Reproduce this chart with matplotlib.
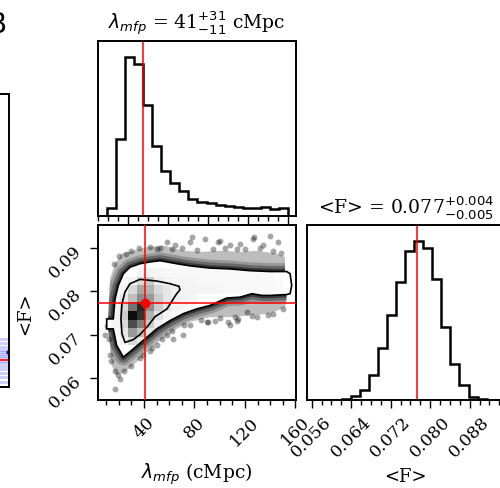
import numpy as np
import matplotlib
matplotlib.use("Agg")
import matplotlib.pyplot as plt
from matplotlib.patches import Polygon
from matplotlib.ticker import MultipleLocator, FixedLocator, FormatStrFormatter, NullFormatter
from matplotlib.colors import LinearSegmentedColormap

plt.rcParams['font.family'] = ['DejaVu Serif']
plt.rcParams['mathtext.fontset'] = 'dejavusans'

# ---------------- data ----------------
lam_median = 41.0
F_median = 0.0773
lam_title = r"$\lambda_{mfp}$ = 41$^{+31}_{-11}$ cMpc"
F_title = r"<F> = 0.077$^{+0.004}_{-0.005}$"
lam_label = r"$\lambda_{mfp}$ (cMpc)"
F_label = "<F>"

# 1D histogram of lambda_mfp (20 bins)
lam_bin_start = 13.8
lam_bin_width = 6.81
lam_counts = [8, 77, 160, 153, 112, 70, 45, 33, 25, 17, 14, 13, 11, 10, 9, 8, 8, 9, 7, 8]

# 1D histogram of <F> (visible bins)
F_bin_start = 0.06209
F_bin_width = 0.001835
F_counts = [1, 3.3, 10, 25, 52, 85, 117, 148, 158, 151, 120, 73, 36, 15, 2.7, 1]

# 2D density grid (darkness), rows = <F> bins (bottom->top), cols = lambda bins
F_grid_start = 0.06749
F_grid_width = 0.001978
density = [
    [0, .05, .15, .10, .03, 0, 0, 0, 0, 0, 0, 0, 0, 0, 0, 0, 0, 0, 0, 0],
    [.03, .10, .40, .25, .10, .04, 0, 0, 0, 0, 0, 0, 0, 0, 0, 0, 0, 0, 0, 0],
    [.04, .15, .70, .50, .20, .06, .03, 0, 0, 0, 0, 0, 0, 0, 0, 0, 0, 0, 0, 0],
    [.05, .20, .95, .80, .30, .12, .05, .03, 0, 0, 0, 0, 0, 0, 0, 0, 0, 0, 0, 0],
    [.05, .15, .55, .85, .45, .20, .10, .05, .04, .03, 0, 0, 0, 0, 0, 0, 0, 0, 0, 0],
    [.04, .10, .25, .45, .40, .20, .10, .07, .05, .04, 0, 0, 0, 0, 0, 0, 0, 0, 0, 0],
    [.03, .05, .15, .35, .30, .15, .10, .07, .05, .05, .04, .04, .04, .03, .03, .03, .03, .03, .03, .02],
    [0, .03, .05, .15, .20, .07, .05, .04, .04, .04, .03, .03, .03, .03, .03, .03, .03, .03, .03, .02],
    [0, 0, 0, .05, .05, .04, .03, .03, .03, .03, .03, .03, .03, .03, .03, .03, .03, .03, .03, 0],
]

# contour outlines (lambda, <F>)
outer_lam = [15.6, 10.4, 10.4, 15.6, 18.3, 23.6, 31.5, 40.8, 50.0, 60.6, 71.1, 81.8, 92.3,
             105.6, 116.1, 125.6, 133.5, 139.9, 153.1, 155.8, 157.1, 155.8, 153.1, 139.9,
             124.0, 108.2, 92.3, 76.5, 65.9, 52.7, 44.7, 36.8, 28.9, 23.6, 19.6, 17.0]
outer_F = [0.0736, 0.0736, 0.0713, 0.0713, 0.0675, 0.0648, 0.0667, 0.0690, 0.0713, 0.0732,
           0.0748, 0.0759, 0.0767, 0.0784, 0.0786, 0.0794, 0.0790, 0.0790, 0.0792, 0.0794,
           0.0813, 0.0840, 0.0845, 0.0845, 0.0847, 0.0851, 0.0853, 0.0858, 0.0863, 0.0870,
           0.0867, 0.0863, 0.0855, 0.0840, 0.0813, 0.0782]
inner_lam = [28.9, 36.8, 50.3, 60.6, 67.7, 68.5, 65.4, 58.2, 48.7, 43.1, 36.8, 31.3, 24.9,
             22.5, 21.7, 22.5, 24.9]
inner_F = [0.0817, 0.0827, 0.0823, 0.0817, 0.0811, 0.0803, 0.0792, 0.0759, 0.0741, 0.0720,
           0.0700, 0.0688, 0.0682, 0.0702, 0.0736, 0.0771, 0.0798]

# envelope of the dense sample cloud (lambda, <F>)
cloud_lam = [22.3, 31.5, 42.1, 55.3, 71.1, 84.4, 102.9, 116.1, 129.3, 145.2, 151.8, 151.8,
             153.1, 151.8, 139.9, 124.0, 108.2, 92.3, 76.5, 65.9, 52.7, 43.4, 34.2, 26.3,
             18.3, 14.4, 13.0, 11.7, 11.4, 12.2, 13.0, 17.0]
cloud_F = [0.0886, 0.0893, 0.0901, 0.0905, 0.0893, 0.0890, 0.0893, 0.0890, 0.0893, 0.0886,
           0.0878, 0.0844, 0.0782, 0.0763, 0.0748, 0.0744, 0.0740, 0.0740, 0.0729, 0.0713,
           0.0686, 0.0663, 0.0637, 0.0617, 0.0606, 0.0629, 0.0675, 0.0706, 0.0729, 0.0782,
           0.0828, 0.0863]

# individual samples visible around the dense cloud
pts_lam = [58.0, 64.6, 76.5, 88.4, 98.9, 126.7, 139.9, 146.5, 116.1, 108.2, 25.7, 50.0,
           134.6, 127.4, 113.5, 77.8, 100.2,
           113.5, 108.2, 89.7, 76.5, 71.1, 63.2, 58.0, 50.0, 44.7, 39.4, 142.5, 129.3,
           17.0, 20.9, 17.0, 13.0, 9.1, 106.8, 114.8, 121.4, 91.0, 96.3,
           30, 36, 45, 53, 62, 70, 82, 95, 104, 120, 132, 142, 149, 20, 16,
           150, 138, 126, 112, 100, 85, 72, 62, 54, 46, 37, 30, 24, 19, 14, 12, 11]
pts_F = [0.0913, 0.0907, 0.0913, 0.0920, 0.0914, 0.0920, 0.0926, 0.0914, 0.0909, 0.0905,
         0.0885, 0.0897, 0.0905, 0.0924, 0.0897, 0.0924, 0.0915,
         0.0732, 0.0721, 0.0729, 0.0721, 0.0698, 0.0690, 0.0698, 0.0675, 0.0663, 0.0652,
         0.0748, 0.0740, 0.0617, 0.0598, 0.0575, 0.0652, 0.0698, 0.0729, 0.0736, 0.0752,
         0.0729, 0.0732,
         0.0893, 0.0898, 0.0902, 0.0900, 0.0896, 0.0899, 0.0895, 0.0897, 0.0899, 0.0896,
         0.0899, 0.0893, 0.0888, 0.0880, 0.0862,
         0.0758, 0.0745, 0.0742, 0.0740, 0.0737, 0.0734, 0.0722, 0.0708, 0.0690, 0.0670,
         0.0645, 0.0628, 0.0615, 0.0608, 0.0640, 0.0690, 0.0720]

# partially visible neighbouring panel
left_blue_levels = [0.164, 0.150, 0.137, 0.126, 0.119, 0.113, 0.106, 0.099, 0.089, 0.082,
                    0.072, 0.061, 0.048, 0.034, 0.017]
left_red_level = 0.092
left_dot = (0.995, 0.120)

# ---------------- figure ----------------
fig = plt.figure(figsize=(5.0, 4.89), dpi=100)

tick_kw = dict(direction='out', width=1.0, labelsize=12.5)
spine_lw = 1.4
hist_lw = 1.8
red_lw = 1.1

def style(ax):
    for s in ax.spines.values():
        s.set_linewidth(spine_lw)
    ax.tick_params(which='major', length=6, **tick_kw)
    ax.tick_params(which='minor', length=3.4, direction='out', width=1.0)

# top histogram
ax_top = fig.add_axes([0.196, 0.5569, 0.396, 0.3572])
lam_edges = lam_bin_start + lam_bin_width * np.arange(len(lam_counts) + 1)
ax_top.hist(lam_edges[:-1], bins=lam_edges, weights=lam_counts, histtype='step',
            color='k', lw=hist_lw)
ax_top.axvline(lam_median, color='red', lw=red_lw)
ax_top.set_xlim(7.3, 155.8)
ax_top.set_ylim(0, 1.1 * max(lam_counts))
ax_top.xaxis.set_major_locator(FixedLocator([30, 60, 90, 120, 150]))
ax_top.xaxis.set_minor_locator(MultipleLocator(7.5))
ax_top.xaxis.set_major_formatter(NullFormatter())
ax_top.set_yticks([])
style(ax_top)
ax_top.set_title(lam_title, fontsize=13.5, pad=9)

# 2D panel
ax2 = fig.add_axes([0.196, 0.1805, 0.396, 0.3564])
cloud = np.column_stack([cloud_lam, cloud_F])
outer = np.column_stack([outer_lam, outer_F])
inner = np.column_stack([inner_lam, inner_F])
ax2.add_patch(Polygon(cloud, closed=True, facecolor='k', edgecolor='none', alpha=0.26, zorder=1))
clip = Polygon(cloud, closed=True, facecolor='none', edgecolor='none')
ax2.add_patch(clip)
for lw, a in [(12, 0.2), (8, 0.3), (4, 0.45)]:
    p = Polygon(outer, closed=True, fill=False, edgecolor='k', lw=lw, alpha=a, zorder=1.5,
                joinstyle='round')
    ax2.add_patch(p)
    p.set_clip_path(clip)
ax2.scatter(pts_lam, pts_F, s=18, c='k', alpha=0.35, lw=0, zorder=1.6)
ax2.add_patch(Polygon(outer, closed=True, facecolor='white', edgecolor='none', zorder=2))
F_edges = F_grid_start + F_grid_width * np.arange(len(density) + 1)
cmap = LinearSegmentedColormap.from_list('dens', [(0, 0, 0, 0), (0, 0, 0, 1)])
ax2.pcolormesh(lam_edges, F_edges, np.array(density), cmap=cmap, vmin=0, vmax=1,
               shading='flat', edgecolors='none', zorder=3)
ax2.add_patch(Polygon(outer, closed=True, fill=False, edgecolor='k', lw=1.2, zorder=4))
ax2.add_patch(Polygon(inner, closed=True, fill=False, edgecolor='k', lw=1.2, zorder=4))
ax2.axvline(lam_median, color='red', lw=red_lw, zorder=5)
ax2.axhline(F_median, color='red', lw=red_lw, zorder=5)
ax2.plot([lam_median], [F_median], 'o', color='red', ms=6, zorder=6)
ax2.set_xlim(3.5, 160.5)
ax2.set_ylim(0.0550, 0.0951)
ax2.xaxis.set_major_locator(MultipleLocator(40))
ax2.xaxis.set_minor_locator(MultipleLocator(10))
ax2.yaxis.set_major_locator(MultipleLocator(0.01))
ax2.yaxis.set_major_formatter(FormatStrFormatter('%.2f'))
style(ax2)
for l in ax2.get_xticklabels():
    l.set_rotation(45)
for l in ax2.get_yticklabels():
    l.set_rotation(45)
ax2.set_xlabel(lam_label, fontsize=13.5, labelpad=9)
ax2.set_ylabel(F_label, fontsize=13, labelpad=8)

# right histogram
ax_r = fig.add_axes([0.6134, 0.1805, 0.396, 0.3564])
F_edges1 = F_bin_start + F_bin_width * np.arange(len(F_counts) + 1)
ax_r.hist(F_edges1[:-1], bins=F_edges1, weights=F_counts, histtype='step', color='k', lw=hist_lw)
ax_r.axvline(F_median, color='red', lw=red_lw)
ax_r.set_xlim(0.0550, 0.0951)
ax_r.set_ylim(0, 1.1 * max(F_counts))
ax_r.xaxis.set_major_locator(MultipleLocator(0.008))
ax_r.xaxis.set_minor_locator(MultipleLocator(0.002))
ax_r.xaxis.set_major_formatter(FormatStrFormatter('%.3f'))
ax_r.set_yticks([])
style(ax_r)
for l in ax_r.get_xticklabels():
    l.set_rotation(45)
ax_r.set_xlabel(F_label, fontsize=13, labelpad=5)
ax_r.set_title(F_title, fontsize=13.5, pad=9)

# partial neighbouring panel on the left
ax_l = fig.add_axes([-0.4, 0.2065, 0.4186, 0.5992])
for yv in left_blue_levels:
    ax_l.axhline(yv, color='blue', alpha=0.2, lw=2)
ax_l.axhline(left_red_level, color='red', lw=1.2)
ax_l.plot([left_dot[0]], [left_dot[1]], 'o', color='blue', ms=2)
ax_l.set_xlim(0, 1)
ax_l.set_ylim(0, 1)
ax_l.set_xticks([])
ax_l.set_yticks([])
for s in ax_l.spines.values():
    s.set_linewidth(spine_lw)

fig.text(6 / 500, 1 - 11 / 489, "B", ha='right', va='top', fontsize=20, family='DejaVu Sans')

fig.savefig("out.png", dpi=100)
